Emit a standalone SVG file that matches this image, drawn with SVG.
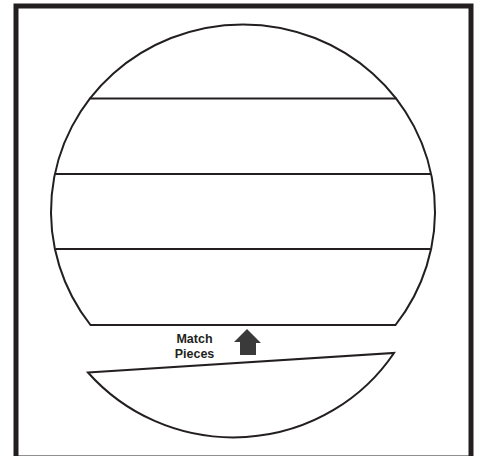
<svg xmlns="http://www.w3.org/2000/svg" width="477" height="456" viewBox="0 0 477 456">
<style>
.ln{fill:none;stroke:#231f20;stroke-width:2}
.lbl{font-family:"Liberation Sans",Arial,sans-serif;font-weight:bold;font-size:12.5px;fill:#231f20;text-anchor:middle}
</style>
<rect width="477" height="456" fill="#fff"/>
<g id="frame"><rect x="16" y="6" width="455" height="452" fill="none" stroke="#231f20" stroke-width="5"/></g>
<g id="globe">
<path class="ln" d="M90.5,325 A192,187 0 1 1 395.5,325 Z"/>
<line class="ln" x1="89.5" y1="98.5" x2="396.5" y2="98.5"/>
<line class="ln" x1="55" y1="174" x2="431" y2="174"/>
<line class="ln" x1="55.5" y1="249" x2="430.5" y2="249"/>
</g>
<g id="piece"><path class="ln" d="M88,372.5 L394,353 A192,187 0 0 1 88,372.5 Z" stroke-linejoin="miter"/></g>
<g id="label"><text class="lbl" x="194.5" y="342.5">Match</text><text class="lbl" x="194.5" y="357.5">Pieces</text></g>
<g id="arrow"><polygon points="247,329 261,343 256,343 256,355 240,355 240,342 234,342" fill="#3a3a3a"/></g>
</svg>
